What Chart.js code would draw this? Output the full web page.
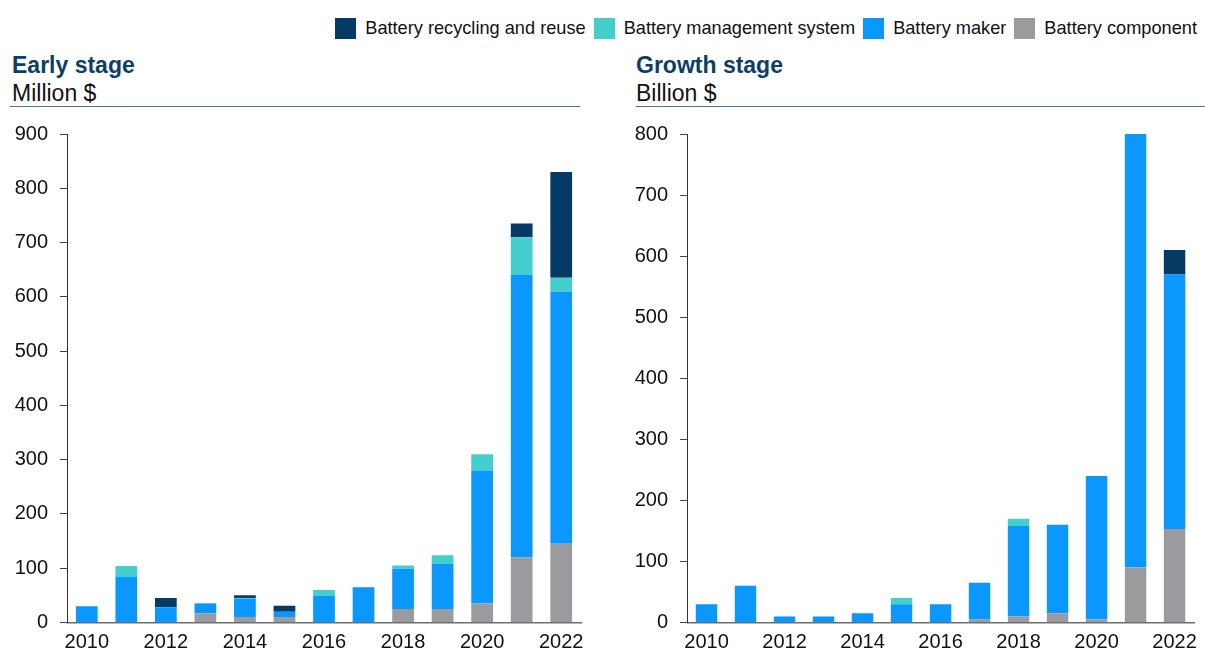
<!DOCTYPE html>
<html>
<head>
<meta charset="utf-8">
<script src="https://cdn.jsdelivr.net/npm/chart.js@4.4.0/dist/chart.umd.min.js"></script>
<style>
  html, body { margin: 0; padding: 0; background: #fff; }
  body { width: 1205px; height: 654px; position: relative; overflow: hidden; font-family: "Liberation Sans", Arial, sans-serif; }
  #legend { position: absolute; top: 18px; right: 8px; display: flex; align-items: center; font-size: 18.2px; color: #111; white-space: nowrap; }
  .li { display: flex; align-items: center; margin-left: 8px; }
  .sw { width: 21px; height: 21px; margin-right: 9px; }
  .title { position: absolute; font-size: 23px; font-weight: bold; color: #0d3f66; }
  .unit { position: absolute; font-size: 23px; color: #111; }
  .rule { position: absolute; height: 0; border-top: 1.5px solid #4e7193; }
  .box { position: absolute; }
</style>
</head>
<body>
<div id="legend"></div>
<div class="title" style="left:12px; top:52px;">Early stage</div>
<div class="unit" style="left:12px; top:80px;">Million $</div>
<div class="rule" style="left:10px; top:106px; width:570px;"></div>
<div class="title" style="left:636px; top:52px;">Growth stage</div>
<div class="unit" style="left:636px; top:80px;">Billion $</div>
<div class="rule" style="left:636px; top:106px; width:569px;"></div>

<div class="box" style="left:0px; top:110px; width:600px; height:544px;"><canvas id="c1"></canvas></div>
<div class="box" style="left:620px; top:110px; width:585px; height:544px;"><canvas id="c2"></canvas></div>

<script>
const years = ['2010','2011','2012','2013','2014','2015','2016','2017','2018','2019','2020','2021','2022'];
const seriesNames = ['Battery recycling and reuse','Battery management system','Battery maker','Battery component'];
const seriesColors = ['#043a63','#45cfcc','#0a98ff','#9b9a9f'];

// Early stage (Million $)
const earlyRecycling = [0, 0, 17, 0, 5, 11, 0, 0, 0, 0, 0, 25, 195];
const earlyBMS       = [0, 20, 0, 1, 1, 0, 11, 0, 6, 16, 30, 70, 25];
const earlyMaker     = [30, 84, 28, 18, 34, 10, 49, 65, 74, 83, 245, 520, 465];
const earlyComponent = [0, 0, 0, 17, 10, 10, 0, 0, 25, 25, 35, 120, 145];
const earlyTicks = [0, 100, 200, 300, 400, 500, 600, 700, 800, 900];

// Growth stage (Billion $)
const growthRecycling = [0, 0, 0, 0, 0, 0, 0, 0, 0, 0, 0, 0, 40];
const growthBMS       = [0, 0, 0, 0, 0, 10, 0, 0, 12, 0, 0, 0, 0];
const growthMaker     = [30, 60, 10, 10, 15, 30, 30, 60, 148, 145, 235, 710, 417];
const growthComponent = [0, 0, 0, 0, 0, 0, 0, 5, 10, 15, 5, 90, 153];
const growthTicks = [0, 100, 200, 300, 400, 500, 600, 700, 800];

// Legend
const legendEl = document.getElementById('legend');
seriesNames.forEach((n, i) => {
  const d = document.createElement('div'); d.className = 'li';
  const s = document.createElement('div'); s.className = 'sw'; s.style.background = seriesColors[i];
  const t = document.createElement('span'); t.textContent = n;
  d.appendChild(s); d.appendChild(t); legendEl.appendChild(d);
});

const FONT = { family: '"Liberation Sans", Arial, sans-serif', size: 20 };

function makeChart(id, data, maxV, ticksArr, padRight) {
  // stack bottom to top: component, maker, BMS, recycling
  const order = [3, 2, 1, 0];
  const datasets = order.map(i => ({
    label: seriesNames[i],
    data: data[i],
    backgroundColor: seriesColors[i],
    borderWidth: 0,
    categoryPercentage: 1.0,
    barPercentage: 0.55,
    stack: 's'
  }));
  return new Chart(document.getElementById(id), {
    type: 'bar',
    data: { labels: years, datasets },
    options: {
      responsive: true,
      maintainAspectRatio: false,
      animation: false,
      layout: { padding: { top: 4, right: padRight, left: 0, bottom: 0 } },
      plugins: { legend: { display: false }, tooltip: { enabled: false } },
      scales: {
        x: {
          stacked: true,
          offset: true,
          grid: { display: false, drawTicks: false },
          border: { display: true, color: '#6e6e6e', width: 1.5 },
          ticks: {
            color: '#111', font: FONT, padding: 8, maxRotation: 0, autoSkip: false,
            callback: function(v, i) { return i % 2 === 0 ? years[i] : ''; }
          },
          afterFit: s => { s.height = 31.5; }
        },
        y: {
          stacked: true,
          min: 0, max: maxV,
          afterBuildTicks: s => { s.ticks = ticksArr.map(v => ({ value: v })); },
          grid: { display: true, drawOnChartArea: false, drawTicks: true, tickLength: 7, color: '#444', lineWidth: 1 },
          border: { display: true, color: '#333', width: 1 },
          ticks: { color: '#111', font: FONT, padding: 12 },
          afterFit: s => { s.width = 67; }
        }
      }
    }
  });
}

makeChart('c1', [earlyRecycling, earlyBMS, earlyMaker, earlyComponent], 900, earlyTicks, 19);
makeChart('c2', [growthRecycling, growthBMS, growthMaker, growthComponent], 800, growthTicks, 5);
</script>
</body>
</html>
